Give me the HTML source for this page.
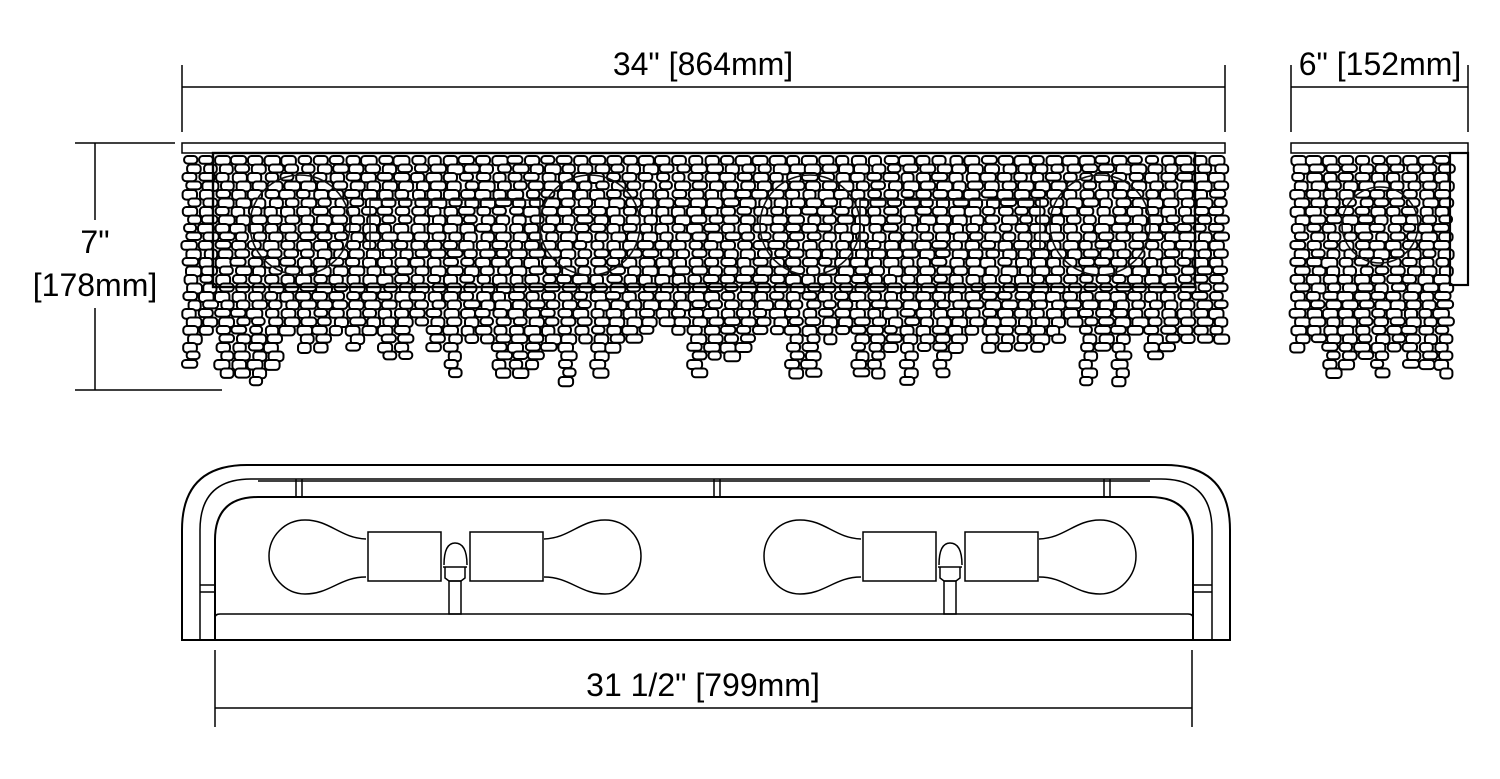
<!DOCTYPE html>
<html><head><meta charset="utf-8"><style>
html,body{margin:0;padding:0;background:#fff;}
svg{display:block;}
text{font-family:"Liberation Sans",Arial,sans-serif;font-size:32px;fill:#000;}
</style></head><body>
<svg id="s" width="1500" height="779" viewBox="0 0 1500 779" xmlns="http://www.w3.org/2000/svg">
<g id="beads" fill="none" stroke="#000" stroke-width="2"></g>
<g fill="none" stroke="#000" stroke-width="1.5">
<line x1="182" y1="65" x2="182" y2="132"/><line x1="1225" y1="65" x2="1225" y2="132"/>
<line x1="182" y1="87" x2="1225" y2="87"/>
<line x1="1291" y1="65" x2="1291" y2="132"/><line x1="1468" y1="65" x2="1468" y2="132"/>
<line x1="1291" y1="87" x2="1468" y2="87"/>
<line x1="75" y1="143" x2="175" y2="143"/><line x1="75" y1="390" x2="222" y2="390"/>
<line x1="95" y1="143" x2="95" y2="220"/><line x1="95" y1="308" x2="95" y2="390"/>
<rect x="182" y="143" width="1043" height="10" fill="#fff"/>
<rect x="1291" y="143" width="177" height="10" fill="#fff"/>
<rect x="213" y="153" width="982" height="134" stroke-width="2.4"/>
<rect x="1450" y="153" width="18" height="132" stroke-width="2.2"/>
<g stroke-width="1.6" stroke="#111">
<circle cx="300" cy="225" r="50"/><circle cx="590" cy="225" r="50"/><circle cx="810" cy="225" r="50"/><circle cx="1100" cy="225" r="50"/>
<rect x="370" y="200" width="170" height="50"/><rect x="860" y="200" width="180" height="50"/>
<circle cx="1380" cy="225" r="38"/>
</g>
<path d="M182 640 V530 Q182 465 247 465 H1165 Q1230 465 1230 530 V640 Z" stroke-width="2"/>
<path d="M200 640 V530 Q200 479 251 479 H1161 Q1212 479 1212 530 V640"/>
<path d="M215 640 V540 Q215 497 258 497 H1150 Q1193 497 1193 540 V640" stroke-width="2"/>
<line x1="258" y1="481" x2="1150" y2="481"/>
<line x1="296" y1="479" x2="296" y2="497"/><line x1="302" y1="479" x2="302" y2="497"/>
<line x1="714" y1="479" x2="714" y2="497"/><line x1="720" y1="479" x2="720" y2="497"/>
<line x1="1104" y1="479" x2="1104" y2="497"/><line x1="1110" y1="479" x2="1110" y2="497"/>
<line x1="200" y1="585" x2="215" y2="585"/><line x1="200" y1="592" x2="215" y2="592"/>
<line x1="1193" y1="585" x2="1212" y2="585"/><line x1="1193" y1="592" x2="1212" y2="592"/>
<path d="M215 618 Q215 614 220 614 H1188 Q1193 614 1193 618"/>
<line x1="182" y1="640" x2="1230" y2="640" stroke-width="2"/>
<g id="pair">
<path d="M366 539 C340 538 330 520 305 520 C285 520 269 536 269 556 C269 576 285 594 305 594 C330 594 340 577 366 577"/>
<rect x="368" y="532" width="73" height="49"/>
<path d="M544 539 C570 538 580 520 605 520 C625 520 641 536 641 556 C641 576 625 594 605 594 C580 594 570 577 544 577"/>
<rect x="470" y="532" width="73" height="49"/>
<path d="M444 565 Q444 543 455 543 Q467 543 467 565"/>
<path d="M443 567 H467 M445 567 V578 L449 581 H461 L465 578 V567"/>
<rect x="449" y="581" width="12" height="33"/>
</g>
<use href="#pair" x="495"/>
<line x1="215" y1="650" x2="215" y2="727"/><line x1="1192" y1="650" x2="1192" y2="727"/>
<line x1="215" y1="708" x2="1192" y2="708"/>
</g>
<text x="703" y="75" text-anchor="middle">34" [864mm]</text>
<text x="1380" y="75" text-anchor="middle">6" [152mm]</text>
<text x="95" y="253" text-anchor="middle">7"</text>
<text x="95" y="296" text-anchor="middle">[178mm]</text>
<text x="703" y="696" text-anchor="middle">31 1/2" [799mm]</text>
</svg>
<script>
var g=document.getElementById('beads'),seed=11;
function r(){seed=(seed*16807)%2147483647;return seed/2147483647;}
var h='';
function col(x,y0,y1){
  for(var y=y0,i=0;y<y1;y+=8.5,i++){
    var w=12+r()*4,hh=7.5+r()*2.5,dx=(i%2?2:-2)+r()*2-1;
    h+='<rect x="'+(x+dx-w/2).toFixed(1)+'" y="'+y.toFixed(1)+'" width="'+w.toFixed(1)+'" height="'+hh.toFixed(1)+'" rx="3.5" fill="#fff"/>';
  }
}
for(var x=192;x<=1222;x+=16.3){
  var e=r()<0.4?345+r()*40:325+r()*25;
  col(x,156,e);
}
for(var x=1300;x<=1446;x+=16){
  col(x,156,340+r()*35);
}
g.innerHTML=h;
</script>
</body></html>
